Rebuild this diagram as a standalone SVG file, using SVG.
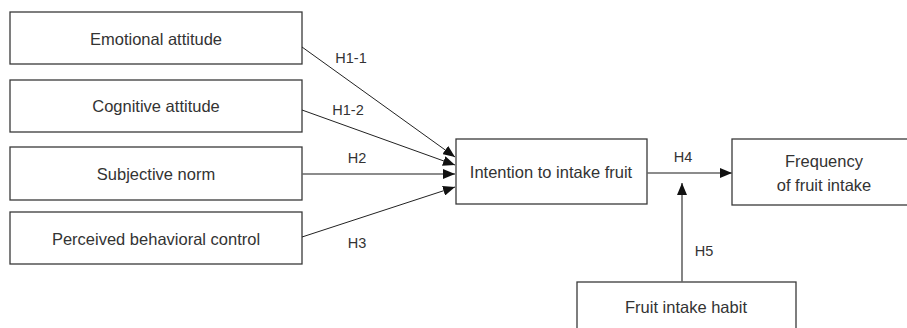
<svg xmlns="http://www.w3.org/2000/svg" width="907" height="328" viewBox="0 0 907 328">
<style>
.box{fill:#fff;stroke:#3a3a3a;stroke-width:1.3}
.t{font-family:"Liberation Sans",Arial,sans-serif;font-size:16.5px;fill:#333;text-anchor:middle}
.l{font-family:"Liberation Sans",Arial,sans-serif;font-size:14.5px;fill:#333;text-anchor:middle}
.c{fill:none;stroke:#222;stroke-width:1}
.g{fill:none;stroke:#666;stroke-width:1.6}
</style>
<defs>
<marker id="ah" viewBox="0 0 12 10" refX="12" refY="5" markerWidth="12" markerHeight="10" markerUnits="userSpaceOnUse" orient="auto">
<path d="M0,0 L12,5 L0,10 Z" fill="#111"/>
</marker>
</defs>
<rect width="907" height="328" fill="#fff"/>
<g id="emotional"><rect class="box" x="10" y="12" width="292" height="52"/><text class="t" x="156" y="45">Emotional attitude</text></g>
<g id="cognitive"><rect class="box" x="10" y="80" width="292" height="52"/><text class="t" x="156" y="112">Cognitive attitude</text></g>
<g id="subjective"><rect class="box" x="10" y="147" width="292" height="53"/><text class="t" x="156" y="180">Subjective norm</text></g>
<g id="perceived"><rect class="box" x="10" y="212" width="292" height="52"/><text class="t" x="156" y="245">Perceived behavioral control</text></g>
<g id="intention"><rect class="box" x="456" y="139" width="191" height="65"/><text class="t" x="551" y="178">Intention to intake fruit</text></g>
<g id="frequency"><rect class="box" x="732" y="139" width="190" height="66"/><text class="t" x="824" y="167">Frequency</text><text class="t" x="824" y="191">of fruit intake</text></g>
<g id="habit"><rect class="box" x="577" y="282" width="219" height="60"/><text class="t" x="686" y="313">Fruit intake habit</text></g>
<g id="connectors">
<line class="c" x1="302" y1="47" x2="455" y2="157" marker-end="url(#ah)"/>
<line class="c" x1="302" y1="110" x2="455" y2="165" marker-end="url(#ah)"/>
<line class="g" x1="302" y1="174" x2="455" y2="174" marker-end="url(#ah)"/>
<line class="c" x1="302" y1="237" x2="455" y2="187" marker-end="url(#ah)"/>
<line class="g" x1="647" y1="173" x2="732" y2="173" marker-end="url(#ah)"/>
<line class="g" x1="682" y1="282" x2="682" y2="183" marker-end="url(#ah)"/>
<text class="l" x="351" y="63">H1-1</text>
<text class="l" x="348" y="115">H1-2</text>
<text class="l" x="357" y="163">H2</text>
<text class="l" x="357" y="248">H3</text>
<text class="l" x="683" y="162">H4</text>
<text class="l" x="704" y="256">H5</text>
</g>
</svg>
